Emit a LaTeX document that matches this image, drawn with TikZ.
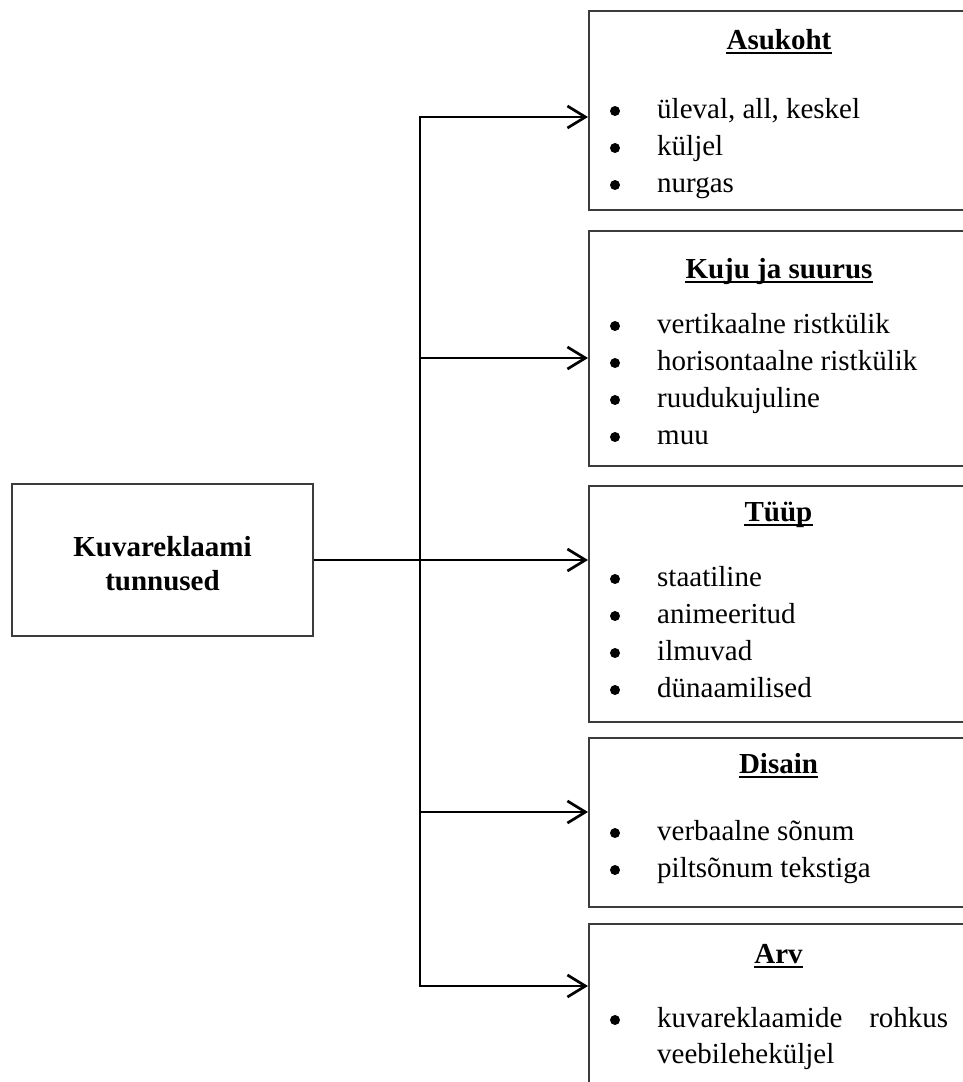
\documentclass[tikz,border=0pt]{standalone}
\usepackage{fontspec}
\setmainfont{Liberation Serif}
\usetikzlibrary{arrows.meta}
\definecolor{boxgray}{RGB}{60,60,60}
\begin{document}
\begin{tikzpicture}[x=1pt,y=-1pt,
  bx/.style={draw=boxgray, line width=1.5pt, minimum width=382pt, anchor=north west, inner sep=0pt},
  conn/.style={line width=2.7pt, black},
  tipb/.tip={Straight Barb[length=18pt,width=22pt]},
  arr/.style={conn, -tipb},
  ttl/.style={font=\fontsize{29}{34}\selectfont\bfseries, anchor=base, inner sep=0pt},
  itm/.style={font=\fontsize{29}{34}\selectfont, anchor=base west, inner sep=0pt},
  ul/.style={line width=2pt, black},
  bul/.style={black}
  ]
\useasboundingbox (0,0) rectangle (963,1082);

% main box
\node[draw=boxgray, line width=1.5pt, minimum width=301pt, minimum height=152pt, inner sep=0pt] (main) at (162.5,560) {};
\node[font=\fontsize{29}{34}\selectfont\bfseries, align=center, inner sep=0pt] (mainlbl) at (162.5,564) {Kuvareklaami\\tunnused};

% right boxes
\node[bx, minimum height=199pt] (b1) at (588,10) {};
\node[bx, minimum height=235pt] (b2) at (588,230) {};
\node[bx, minimum height=236pt] (b3) at (588,485) {};
\node[bx, minimum height=169pt] (b4) at (588,737) {};
\node[bx, minimum height=220pt] (b5) at (588,923) {};

% connectors
\coordinate (jtop) at (420,117);
\coordinate (j2) at (420,358);
\coordinate (j4) at (420,812);
\coordinate (jbot) at (420,986);
\draw[conn, tipb-tipb] (b1.west |- jtop) -- (jtop) -- (jbot) -- (b5.west |- jbot);
\draw[arr] (j2) -- (b2.west |- j2);
\draw[arr] (main.east) -- (b3.west |- main.east);
\draw[arr] (j4) -- (b4.west |- j4);

% titles
\node[ttl] (t1) at (779,49) {Asukoht};
\draw[ul] ([yshift=-4pt]t1.base west) -- ([yshift=-4pt]t1.base east);
\node[ttl] (t2) at (779,278) {Kuju ja suurus};
\draw[ul] ([yshift=-4pt]t2.base west) -- ([yshift=-4pt]t2.base east);
\node[ttl] (t3) at (778.5,521) {Tüüp};
\draw[ul] ([yshift=-4pt]t3.base west) -- ([yshift=-4pt]t3.base east);
\node[ttl] (t4) at (778.5,773) {Disain};
\draw[ul] ([yshift=-4pt]t4.base west) -- ([yshift=-4pt]t4.base east);
\node[ttl] (t5) at (778.5,963) {Arv};
\draw[ul] ([yshift=-4pt]t5.base west) -- ([yshift=-4pt]t5.base east);

% box 1 items
\fill[bul] (615,111) circle[radius=5pt];
\node[itm] (i11) at (657,118) {üleval, all, keskel};
\fill[bul] (615,148) circle[radius=5pt];
\node[itm] (i12) at (657,155) {küljel};
\fill[bul] (615,185) circle[radius=5pt];
\node[itm] (i13) at (657,192) {nurgas};

% box 2 items
\fill[bul] (615,326) circle[radius=5pt];
\node[itm] (i21) at (657,333) {vertikaalne ristkülik};
\fill[bul] (615,363) circle[radius=5pt];
\node[itm] (i22) at (657,370) {horisontaalne ristkülik};
\fill[bul] (615,400) circle[radius=5pt];
\node[itm] (i23) at (657,407) {ruudukujuline};
\fill[bul] (615,437) circle[radius=5pt];
\node[itm] (i24) at (657,444) {muu};

% box 3 items
\fill[bul] (615,579) circle[radius=5pt];
\node[itm] (i31) at (657,586) {staatiline};
\fill[bul] (615,616) circle[radius=5pt];
\node[itm] (i32) at (657,623) {animeeritud};
\fill[bul] (615,653) circle[radius=5pt];
\node[itm] (i33) at (657,660) {ilmuvad};
\fill[bul] (615,690) circle[radius=5pt];
\node[itm] (i34) at (657,697) {dünaamilised};

% box 4 items
\fill[bul] (615,833) circle[radius=5pt];
\node[itm] (i41) at (657,840) {verbaalne sõnum};
\fill[bul] (615,870) circle[radius=5pt];
\node[itm] (i42) at (657,877) {piltsõnum tekstiga};

% box 5 items
\fill[bul] (615,1020) circle[radius=5pt];
\node[itm] (i51) at (657,1027) {\hbox to 291pt{kuvareklaamide\hfill rohkus}};
\node[itm] (i52) at (657,1063) {veebileheküljel};
\end{tikzpicture}
\end{document}
